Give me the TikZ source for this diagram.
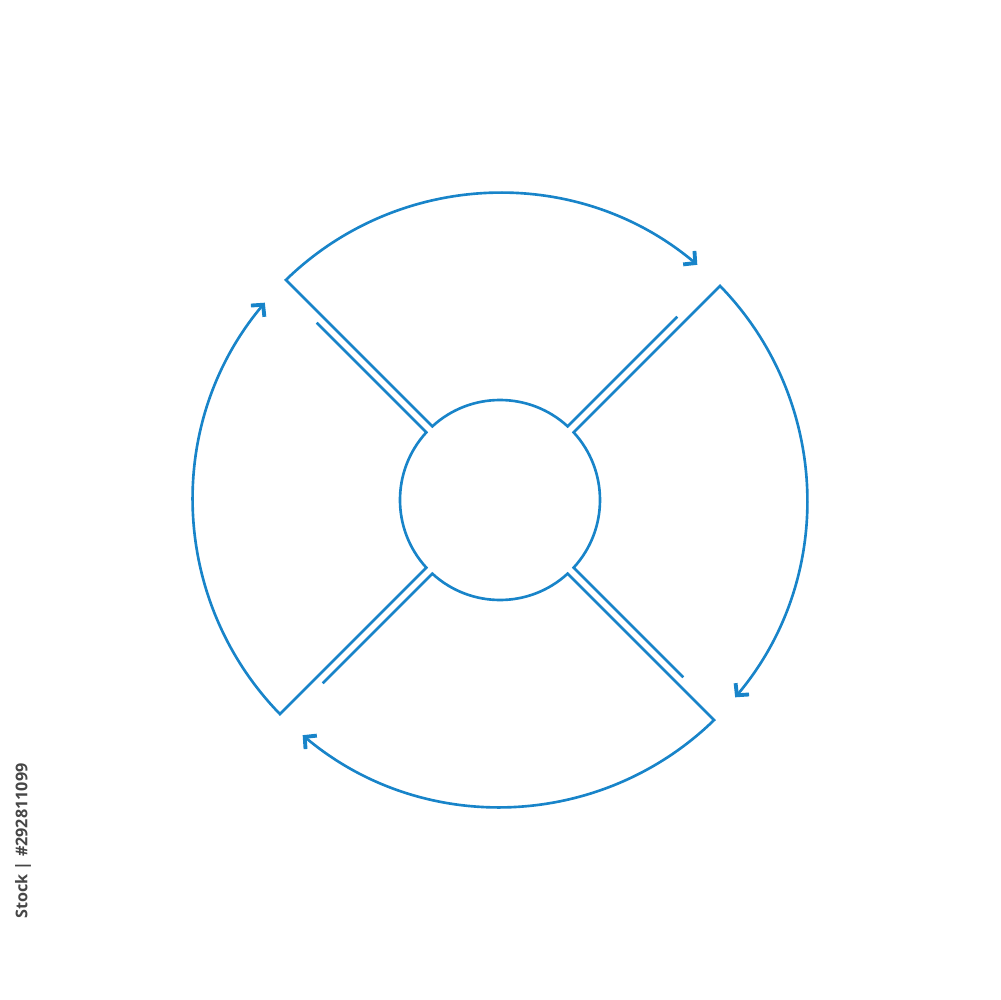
\documentclass[tikz,border=0pt]{standalone}
\usepackage{fontspec}
\setmainfont{Open Sans}
\usetikzlibrary{arrows.meta}
\definecolor{cyc}{RGB}{24,132,201}
\definecolor{wm}{RGB}{70,70,70}
\tikzset{
  petal/.style={draw=cyc, line width=0.75pt, line join=miter,
    -{Straight Barb[length=2.4pt,width=5pt,line width=1.1pt]}},
}
\begin{document}
\begin{tikzpicture}[x=0.1mm,y=0.1mm]
\useasboundingbox (-500,-500) rectangle (500,500);
\foreach \r in {0,90,180,270}{
  \draw[petal, rotate=-\r]
    (177.29,183.28) -- (67.65,73.65)
    arc[start angle=47.43, end angle=132.57, radius=100]
    -- (-214.07,220.06)
    arc[start angle=134.21, end angle=50, radius=307];
}
\node[text=wm, rotate=90, font=\fontsize{4.6pt}{5.5pt}\selectfont\bfseries, inner sep=0pt]
  (wmark) at (-477,-341) {Stock | \#292811099};
\end{tikzpicture}
\end{document}
